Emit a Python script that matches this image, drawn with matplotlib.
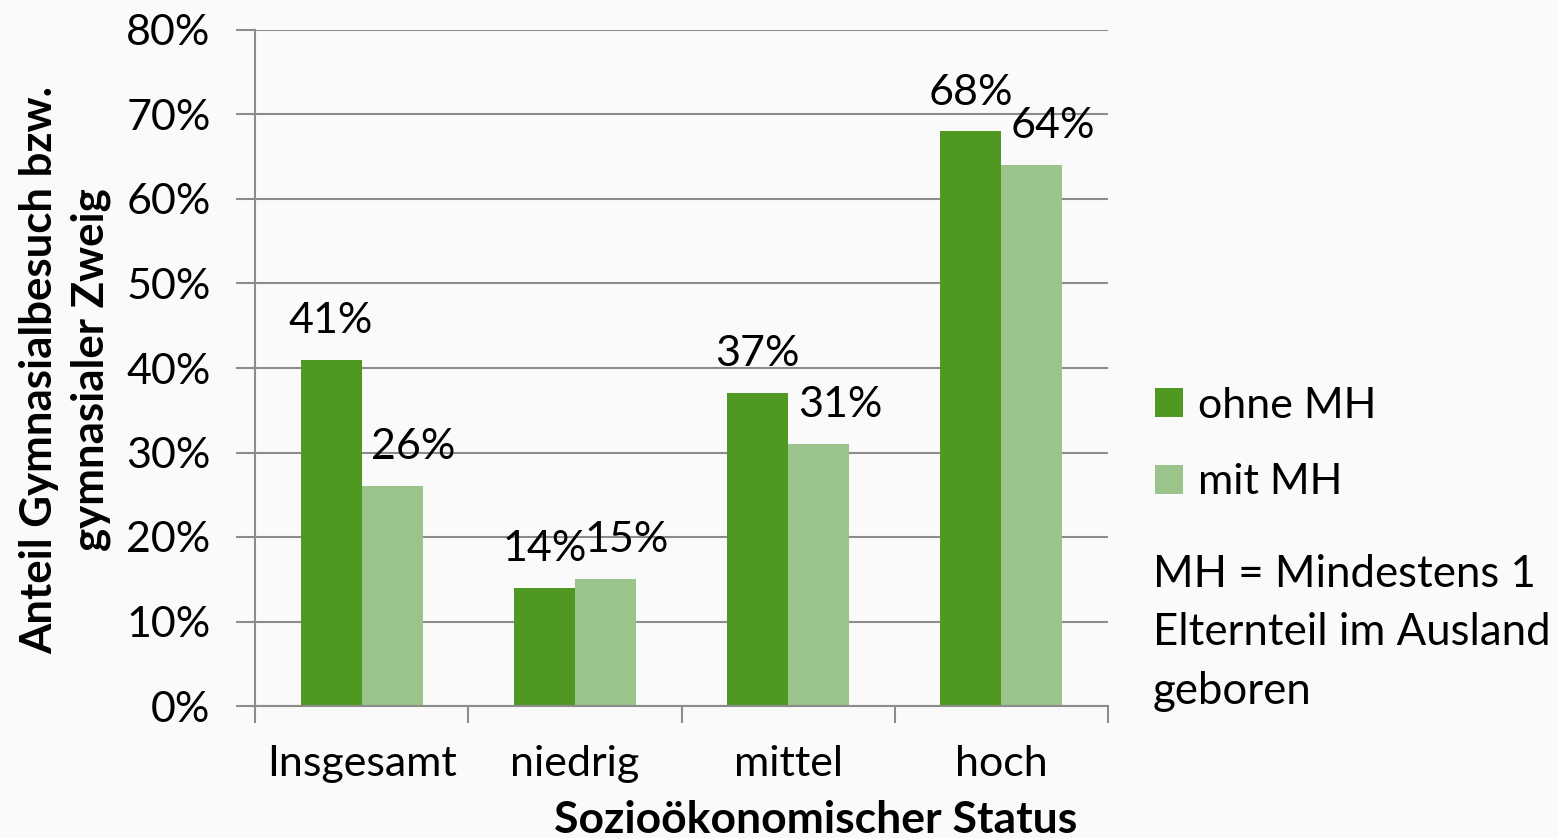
import matplotlib
matplotlib.use("Agg")
import matplotlib.pyplot as plt
import numpy as np

# data
categories = ["Insgesamt", "niedrig", "mittel", "hoch"]
ohne_mh = [41, 14, 37, 68]
mit_mh = [26, 15, 31, 64]
series_names = ["ohne MH", "mit MH"]
yticks = [0, 10, 20, 30, 40, 50, 60, 70, 80]

col_dark = "#4F9822"
col_light = "#9AC48A"
gridcol = "#8C8C8C"
bg = "#FAFAFA"
fs = 31

plt.rcParams['font.family'] = ['Lato', 'DejaVu Sans']

fig = plt.figure(figsize=(15.58, 8.38), dpi=100, facecolor=bg)
ax = fig.add_axes([255/1558, 1-706/838, (1108-255)/1558, (706-30)/838])
ax.set_facecolor(bg)

x = np.arange(len(categories))
w = 0.286
b1 = ax.bar(x - w/2, ohne_mh, w, color=col_dark, label=series_names[0], zorder=2)
b2 = ax.bar(x + w/2, mit_mh, w, color=col_light, label=series_names[1], zorder=2)

# labels of the light bars sit a bit to the right, as in the original
for bars, vals, dx in ((b1, ohne_mh, 0.0), (b2, mit_mh, 0.1)):
    for r, v in zip(bars, vals):
        ax.text(r.get_x() + r.get_width()/2 + dx, v + 4.6, "%d%%" % v, ha="center", va="center",
                fontsize=fs, zorder=5)

ax.set_xlim(-0.5, len(categories) - 0.5)
ax.set_ylim(0, 80)
ax.set_yticks(yticks)
ax.set_yticklabels(["%d%%" % t for t in yticks], fontsize=fs)
ax.yaxis.grid(True, color=gridcol, linewidth=1.5, zorder=0)
ax.set_axisbelow(True)

# category labels, tick marks on boundaries
ax.set_xticks(x)
ax.set_xticklabels(categories, fontsize=fs)
ax.tick_params(axis="x", length=0, pad=28)
ax.set_xticks(np.arange(-0.5, len(categories)), minor=True)
ax.tick_params(axis="x", which="minor", length=12, width=1.5, color=gridcol)
ax.tick_params(axis="y", length=14, width=1.5, color=gridcol, pad=18)

for s in ("top", "right"):
    ax.spines[s].set_visible(False)
for s in ("left", "bottom"):
    ax.spines[s].set_color(gridcol)
    ax.spines[s].set_linewidth(1.5)

fig.text(816/1558, 1-820/838, "Sozioökonomischer Status", ha="center", va="center",
         fontsize=32, fontweight="bold")
fig.text(65/1558, 1-370/838, "Anteil Gymnasialbesuch bzw.\ngymnasialer Zweig", ha="center",
         va="center", rotation=90, fontsize=31.5, fontweight="bold", linespacing=1.35)

leg = fig.legend(handles=[b1, b2], loc="center left", bbox_to_anchor=(1155/1558, 1-444/838),
                 frameon=False, fontsize=fs, handlelength=0.65, handleheight=0.65,
                 handletextpad=0.35, labelspacing=0.9, borderaxespad=0, borderpad=0)

fig.text(1153/1558, 1-554/838, "MH = Mindestens 1\nElternteil im Ausland\ngeboren", ha="left",
         va="top", fontsize=31.5, linespacing=1.53)

fig.savefig("out.png", dpi=100, facecolor=bg)
